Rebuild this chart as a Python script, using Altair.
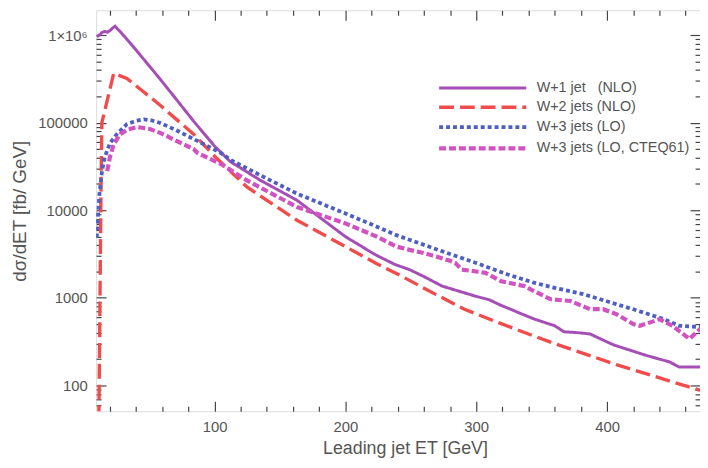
import altair as alt
import pandas as pd

# ---------------- data ----------------
series = ["W+1 jet\u00a0\u00a0 (NLO)", "W+2 jets (NLO)", "W+3 jets (LO)", "W+3 jets (LO, CTEQ61)"]
colors = ["#a54fb6", "#f24b4b", "#4d5fc2", "#d352c2"]
dashes = [[1, 0], [15, 6], [4, 3], [7, 3]]
widths = [3.0, 4.2, 3.4, 3.4]

w1_x = [10, 12, 14, 16, 18, 20, 22, 24, 30, 35, 45, 58, 70, 84, 100, 112, 135, 163, 200,
        223, 238, 249, 260, 274, 299, 310, 319, 344, 360, 367, 378, 387, 395, 405, 430, 448, 455, 471]
w1_y = [9.6e5, 1.0e6, 1.07e6, 1.1e6, 1.08e6, 1.12e6, 1.2e6, 1.26e6, 1.01e6, 8.3e5, 5.5e5, 3.2e5,
        1.91e5, 1.04e5, 5.4e4, 3.6e4, 2.2e4, 1.3e4, 5000, 3100, 2400, 2100, 1750, 1360, 1050, 950,
        820, 575, 480, 410, 400, 387, 340, 290, 220, 185, 162, 162]

w2_x = [11.6, 12.3, 12.9, 13.4, 13.9, 18, 23, 33, 45, 58, 70, 84, 101, 125, 163, 200, 224,
        239, 269, 291, 314, 344, 360, 407, 471]
w2_y = [40, 500, 5000, 3e4, 1.0e5, 1.8e5, 3.66e5, 3.2e5, 2.3e5, 1.6e5, 1.12e5, 7.4e4, 4.0e4,
        1.83e4, 7700, 3850, 2450, 1900, 1096, 741, 542, 367, 300, 173, 88]

w3_x = [10, 11, 12, 14, 16, 20, 25, 33, 40, 46, 52, 58, 70, 84, 104, 113, 140, 163, 200, 224,
        239, 274, 300, 324, 344, 360, 382, 420, 443, 455, 471]
w3_y = [4900, 9000, 1.5e4, 2.8e4, 4.0e4, 5.8e4, 7.3e4, 9.6e4, 1.05e5, 1.09e5, 1.06e5, 1.0e5,
        8.3e4, 6.5e4, 4.6e4, 3.7e4, 2.3e4, 1.55e4, 9200, 6500, 5200, 3400, 2500, 1850, 1490,
        1300, 1100, 740, 575, 480, 465]

w3c_x = [18, 20, 23, 28, 34, 41, 50, 58, 70, 84, 87, 105, 125, 163, 200, 224, 239, 249, 260,
         269, 280, 284, 289, 300, 307, 319, 337, 344, 357, 372, 387, 397, 407, 420, 425, 433,
         440, 450, 463, 471]
w3c_y = [2.8e4, 4.0e4, 5.7e4, 7.4e4, 8.4e4, 8.9e4, 8.5e4, 7.7e4, 6.3e4, 5.0e4, 4.5e4, 3.37e4,
         2.18e4, 1.09e4, 7080, 5000, 3850, 3530, 3250, 2970, 2650, 2500, 2100, 2000, 1930, 1550,
         1360, 1195, 962, 920, 742, 742, 652, 502, 480, 525, 571, 480, 340, 440]

x_major = [100, 200, 300, 400]
x_minor = [v for v in range(20, 471, 20) if v % 100 != 0]
y_major = [100, 1000, 10000, 100000, 1000000]
y_minor = [m * 10 ** e for e in range(1, 7) for m in range(2, 10)]

# ---------------- table ----------------
rows = []
for name, xs_, ys_ in zip(series, [w1_x, w2_x, w3_x, w3c_x], [w1_y, w2_y, w3_y, w3c_y]):
    for a, b in zip(xs_, ys_):
        rows.append({"series": name, "et": a, "xs": b})
df = pd.DataFrame(rows)

FONT = "Liberation Sans"
TXT = "#555555"
TICK = "#444444"

xscale = alt.Scale(domain=[9.5, 471], nice=False, zero=False)
yscale = alt.Scale(type="log", domain=[50.8, 1.92e6], nice=False)

legend = alt.Legend(
    title=None, orient="none", legendX=377, legendY=66,
    symbolType="M-4,0H4", symbolSize=484, symbolStrokeWidth=3.4,
    labelFont=FONT, labelFontSize=14.5, labelColor=TXT, labelOffset=41,
    rowPadding=0, padding=0,
)

lines = alt.Chart(df).mark_line(clip=True, strokeCap="butt").encode(
    x=alt.X("et:Q", scale=xscale, axis=alt.Axis(
        orient="bottom", values=x_major, tickSize=0, domain=False, grid=False,
        labelPadding=9, labelFont=FONT, labelFontSize=15, labelColor=TXT,
        title="Leading jet ET [GeV]", titleFont=FONT, titleFontSize=18,
        titleFontWeight="normal", titleColor=TXT, titlePadding=5, titleX=312)),
    y=alt.Y("xs:Q", scale=yscale, axis=alt.Axis(
        orient="left", values=y_major, tickSize=0, domain=False, grid=False,
        labelExpr="datum.value >= 999999 ? '1\u00d710\u2076' : format(datum.value, 'd')",
        labelPadding=9, labelFont=FONT, labelFontSize=15, labelColor=TXT,
        title="d\u03c3/dET [fb/ GeV]", titleFont=FONT, titleFontSize=19,
        titleFontWeight="normal", titleColor=TXT, titlePadding=8)),
    color=alt.Color("series:N", scale=alt.Scale(domain=series, range=colors), legend=legend),
    strokeDash=alt.StrokeDash("series:N", scale=alt.Scale(domain=series, range=dashes), legend=legend),
    strokeWidth=alt.StrokeWidth("series:N", scale=alt.Scale(domain=series, range=widths), legend=None),
    order=alt.Order("et:Q"),
)


def tick_layer(xvals, yvals, xorient, yorient, size):
    return alt.Chart(df).mark_point(opacity=0).encode(
        x=alt.X("et:Q", scale=xscale, axis=alt.Axis(
            orient=xorient, values=xvals, labels=False, tickSize=size, offset=-size,
            domain=False, grid=False, title=None, tickColor=TICK, tickWidth=1.2)),
        y=alt.Y("xs:Q", scale=yscale, axis=alt.Axis(
            orient=yorient, values=yvals, labels=False, tickSize=size, offset=-size,
            domain=False, grid=False, title=None, tickColor=TICK, tickWidth=1.2)),
    )


chart = alt.layer(
    lines,
    tick_layer(x_major, y_major, "bottom", "left", 10),
    tick_layer(x_minor, y_minor, "bottom", "left", 5),
    tick_layer(x_major, y_major, "top", "right", 10),
    tick_layer(x_minor, y_minor, "top", "right", 5),
).resolve_axis(x="independent", y="independent").properties(
    width=610, height=405,
    padding={"left": 89, "top": 0, "right": 0, "bottom": 47},
    autosize=alt.AutoSizeParams(type="none"),
).configure_view(stroke="#333333", strokeWidth=1.3).configure(background="white")

chart.save("out.html", embed_options={"renderer": "svg", "actions": False})
